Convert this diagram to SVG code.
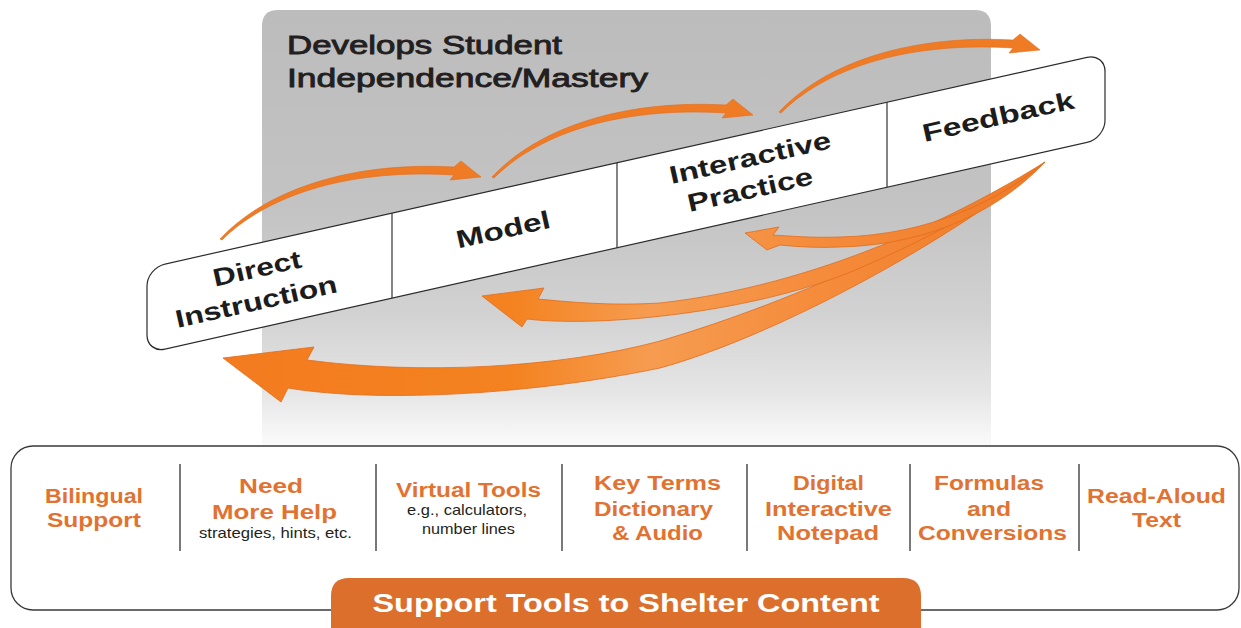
<svg xmlns="http://www.w3.org/2000/svg" xmlns:xlink="http://www.w3.org/1999/xlink" width="1241" height="628" viewBox="0 0 1241 628">
<style>
text{font-family:"Liberation Sans",Arial,Helvetica,sans-serif}
.heading{font-size:26.5px;font-weight:normal;fill:#231f20;stroke:#231f20;stroke-width:0.9}
.band-label{font-size:25px;font-weight:bold;fill:#1c1c1c;text-anchor:middle}
.tool{font-size:19.5px;font-weight:bold;fill:#e27231;text-anchor:middle}
.sub{font-size:15px;fill:#231f20;text-anchor:middle}
.tab-label{font-size:26px;font-weight:bold;fill:#ffffff;text-anchor:middle}
.divider{stroke:#4d4d4d;stroke-width:1.5}
.cell-line{stroke:#333;stroke-width:1.2;fill:none}
.fwd{fill:#ef7b25;stroke:#e26c1c;stroke-width:0.6;stroke-linejoin:round}
.ret{fill:url(#retGrad);stroke:#e26c1c;stroke-width:0.8;stroke-linejoin:round}
</style>
<defs>
<linearGradient id="panelGrad" x1="0" y1="10" x2="0" y2="446" gradientUnits="userSpaceOnUse">
<stop offset="0" stop-color="#bdbcbd"/>
<stop offset="0.45" stop-color="#c3c3c3"/>
<stop offset="0.7" stop-color="#d2d2d3"/>
<stop offset="0.88" stop-color="#e6e6e7"/>
<stop offset="1" stop-color="#fbfbfb"/>
</linearGradient>
<linearGradient id="retGrad" x1="220" y1="0" x2="1045" y2="0" gradientUnits="userSpaceOnUse">
<stop offset="0" stop-color="#f37b20"/>
<stop offset="0.35" stop-color="#f4821f"/>
<stop offset="0.52" stop-color="#f69c50"/>
<stop offset="0.72" stop-color="#f58c3c"/>
<stop offset="1" stop-color="#ef7a26"/>
</linearGradient>
<path id="fwdArrow" d="M-261,62 C-220,18 -140,-16 -27,-10 L-20,-16 L0,0 L-31,3 L-27,-2 C-140,-9 -218,22 -259,63 Z"/>
</defs>

<g id="panel">
<path d="M262,446 L262,26 Q262,10 278,10 L975,10 Q991,10 991,26 L991,446 Z" fill="url(#panelGrad)"/>
<text class="heading" x="287" y="54" textLength="275" lengthAdjust="spacingAndGlyphs">Develops Student</text>
<text class="heading" x="287" y="87" textLength="361" lengthAdjust="spacingAndGlyphs">Independence/Mastery</text>
</g>

<g id="band">
<g transform="skewY(-12.63)">
<rect x="147" y="301" width="958" height="85" rx="18" ry="18" fill="#ffffff" stroke="#2a2a2a" stroke-width="1.2"/>
<line class="cell-line" x1="392" y1="301" x2="392" y2="386"/>
<line class="cell-line" x1="617" y1="301" x2="617" y2="386"/>
<line class="cell-line" x1="887" y1="301" x2="887" y2="386"/>
</g>
</g>

<g id="node-direct-instruction">
<text class="band-label" x="259" y="277" transform="rotate(-12.63 259 277)" textLength="90" lengthAdjust="spacingAndGlyphs">Direct</text>
<text class="band-label" x="258" y="310" transform="rotate(-12.63 258 310)" textLength="165" lengthAdjust="spacingAndGlyphs">Instruction</text>
</g>
<g id="node-model">
<text class="band-label" x="505" y="238" transform="rotate(-12.63 505 238)" textLength="96" lengthAdjust="spacingAndGlyphs">Model</text>
</g>
<g id="node-interactive-practice">
<text class="band-label" x="752" y="166" transform="rotate(-12.63 752 166)" textLength="165" lengthAdjust="spacingAndGlyphs">Interactive</text>
<text class="band-label" x="752" y="198" transform="rotate(-12.63 752 198)" textLength="128" lengthAdjust="spacingAndGlyphs">Practice</text>
</g>
<g id="node-feedback">
<text class="band-label" x="1000" y="125" transform="rotate(-12.63 1000 125)" textLength="155" lengthAdjust="spacingAndGlyphs">Feedback</text>
</g>

<g id="connectors">
<use xlink:href="#fwdArrow" href="#fwdArrow" class="fwd" transform="translate(481,177)"/>
<use xlink:href="#fwdArrow" href="#fwdArrow" class="fwd" transform="translate(753,115)"/>
<use xlink:href="#fwdArrow" href="#fwdArrow" class="fwd" transform="translate(1040,50)"/>
<path class="ret" d="M1045,162 C960,225 800,300 660,341 C560,368 420,375 307,360 L314,347 L223,358 L281,402 L288,388 C370,402 520,397 660,368 C780,335 960,235 1045,162 Z"/>
<path class="ret" d="M1045,162 C960,215 820,285 660,303 C610,306 570,302 538,299 L544,288 L482,296 L522,327 L527,319 C600,328 760,312 860,268 C930,238 1000,200 1045,162 Z"/>
<path class="ret" d="M1045,162 C1000,200 930,235 840,237 C810,238 790,236 773,235 L779,227 L745,233 L767,250 L780,245 C800,247 820,248 840,247 C935,245 1005,205 1045,162 Z"/>
</g>

<g id="support-box">
<rect x="11" y="446" width="1228" height="164" rx="22" ry="22" fill="#ffffff" stroke="#3a3a3a" stroke-width="1.3"/>
<line class="divider" x1="180" y1="464" x2="180" y2="551"/>
<line class="divider" x1="376" y1="464" x2="376" y2="551"/>
<line class="divider" x1="562" y1="464" x2="562" y2="551"/>
<line class="divider" x1="747" y1="464" x2="747" y2="551"/>
<line class="divider" x1="910" y1="464" x2="910" y2="551"/>
<line class="divider" x1="1079" y1="464" x2="1079" y2="551"/>
</g>

<g id="tool-bilingual">
<text class="tool" x="94" y="503" textLength="98" lengthAdjust="spacingAndGlyphs">Bilingual</text>
<text class="tool" x="94" y="527" textLength="94" lengthAdjust="spacingAndGlyphs">Support</text>
</g>
<g id="tool-need-more-help">
<text class="tool" x="271" y="493" textLength="64" lengthAdjust="spacingAndGlyphs">Need</text>
<text class="tool" x="274.5" y="519" textLength="125" lengthAdjust="spacingAndGlyphs">More Help</text>
<text class="sub" x="275.5" y="538" textLength="153" lengthAdjust="spacingAndGlyphs">strategies, hints, etc.</text>
</g>
<g id="tool-virtual-tools">
<text class="tool" x="468.5" y="497" textLength="145" lengthAdjust="spacingAndGlyphs">Virtual Tools</text>
<text class="sub" x="467" y="515" textLength="120" lengthAdjust="spacingAndGlyphs">e.g., calculators,</text>
<text class="sub" x="468.5" y="534" textLength="93" lengthAdjust="spacingAndGlyphs">number lines</text>
</g>
<g id="tool-key-terms">
<text class="tool" x="657.5" y="490" textLength="127" lengthAdjust="spacingAndGlyphs">Key Terms</text>
<text class="tool" x="653.5" y="516" textLength="119" lengthAdjust="spacingAndGlyphs">Dictionary</text>
<text class="tool" x="657.5" y="540" textLength="91" lengthAdjust="spacingAndGlyphs">&amp; Audio</text>
</g>
<g id="tool-digital-notepad">
<text class="tool" x="828.5" y="490" textLength="71" lengthAdjust="spacingAndGlyphs">Digital</text>
<text class="tool" x="828.5" y="516" textLength="127" lengthAdjust="spacingAndGlyphs">Interactive</text>
<text class="tool" x="828" y="540" textLength="102" lengthAdjust="spacingAndGlyphs">Notepad</text>
</g>
<g id="tool-formulas">
<text class="tool" x="989" y="490" textLength="110" lengthAdjust="spacingAndGlyphs">Formulas</text>
<text class="tool" x="989" y="516" textLength="44" lengthAdjust="spacingAndGlyphs">and</text>
<text class="tool" x="992.5" y="540" textLength="149" lengthAdjust="spacingAndGlyphs">Conversions</text>
</g>
<g id="tool-read-aloud">
<text class="tool" x="1156.5" y="503" textLength="139" lengthAdjust="spacingAndGlyphs">Read-Aloud</text>
<text class="tool" x="1156.5" y="527" textLength="49" lengthAdjust="spacingAndGlyphs">Text</text>
</g>

<g id="tab-support-tools">
<path d="M331,640 L331,596 Q331,578 349,578 L903,578 Q921,578 921,596 L921,640 Z" fill="#dd6f2d"/>
<text class="tab-label" x="626" y="612" textLength="507" lengthAdjust="spacingAndGlyphs">Support Tools to Shelter Content</text>
</g>
</svg>
